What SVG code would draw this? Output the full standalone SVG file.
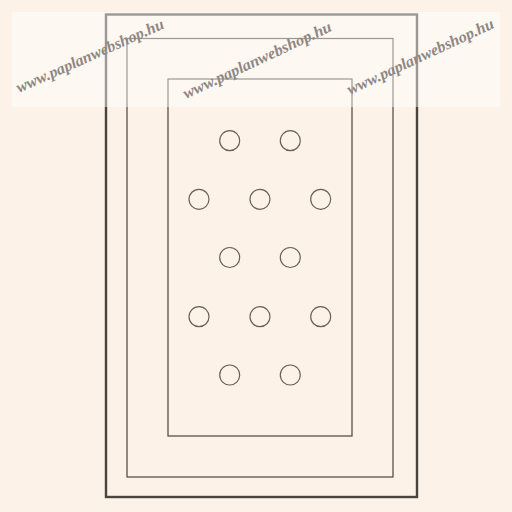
<svg xmlns="http://www.w3.org/2000/svg" width="512" height="512" viewBox="0 0 512 512">
<style>
.r{fill:none;stroke:#4a433e}
.c{fill:none;stroke:#6a6058;stroke-width:1.2}
.wm{font-family:"Liberation Serif",serif;font-weight:bold;font-style:italic;font-size:16px;fill:#8e8884}
</style>
<rect width="512" height="512" fill="#fdf2e8"/>
<g id="outer"><rect class="r" x="106" y="14.5" width="311" height="482.5" stroke-width="2.4" stroke="#111"/></g>
<g id="middle"><rect class="r" x="127" y="38.5" width="266" height="438.5" stroke-width="1.2"/></g>
<g id="inner"><rect class="r" x="168" y="79" width="184" height="357" stroke-width="1.2"/></g>
<g id="holes">
<circle class="c" cx="229.7" cy="140.7" r="10"/>
<circle class="c" cx="290.3" cy="140.7" r="10"/>
<circle class="c" cx="199" cy="199.3" r="10"/>
<circle class="c" cx="260" cy="199.3" r="10"/>
<circle class="c" cx="320.7" cy="199.3" r="10"/>
<circle class="c" cx="229.7" cy="257.5" r="10"/>
<circle class="c" cx="290.3" cy="257.5" r="10"/>
<circle class="c" cx="199" cy="316.7" r="10"/>
<circle class="c" cx="260" cy="316.7" r="10"/>
<circle class="c" cx="320.7" cy="316.7" r="10"/>
<circle class="c" cx="229.7" cy="375" r="10"/>
<circle class="c" cx="290.3" cy="375" r="10"/>
</g>
<g id="watermark">
<rect x="12" y="12" width="488" height="95" fill="#ffffff" opacity="0.45"/>
<text class="wm" transform="translate(19,93) rotate(-24)" textLength="160" lengthAdjust="spacingAndGlyphs">www.paplanwebshop.hu</text>
<text class="wm" transform="translate(186,99) rotate(-25)" textLength="162" lengthAdjust="spacingAndGlyphs">www.paplanwebshop.hu</text>
<text class="wm" transform="translate(350,95) rotate(-25)" textLength="160" lengthAdjust="spacingAndGlyphs">www.paplanwebshop.hu</text>
</g>
</svg>
